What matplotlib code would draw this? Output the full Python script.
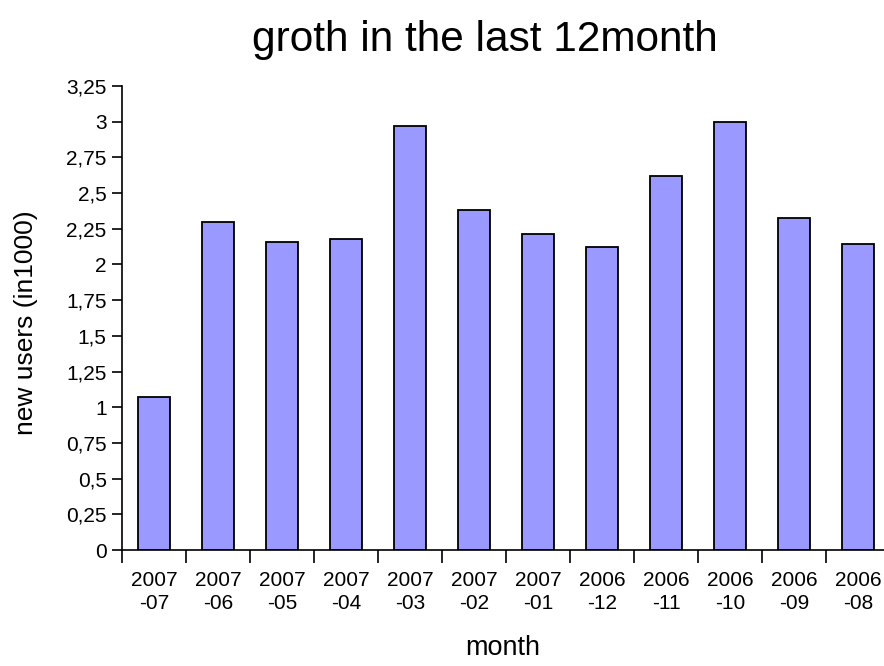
import matplotlib.pyplot as plt
import numpy as np

plt.rcParams['font.family'] = ['Liberation Sans', 'DejaVu Sans']

months = ['2007\n-07', '2007\n-06', '2007\n-05', '2007\n-04', '2007\n-03', '2007\n-02',
          '2007\n-01', '2006\n-12', '2006\n-11', '2006\n-10', '2006\n-09', '2006\n-08']
new_users = [1.07, 2.30, 2.16, 2.18, 2.97, 2.38, 2.21, 2.12, 2.62, 3.00, 2.325, 2.14]
yticks = [0, 0.25, 0.5, 0.75, 1, 1.25, 1.5, 1.75, 2, 2.25, 2.5, 2.75, 3, 3.25]

fig = plt.figure(figsize=(8.84, 6.66), dpi=100)
ax = fig.add_axes([122/884, 116/666, 768/884, 464/666])

x = np.arange(len(months))
ax.bar(x, new_users, width=0.5, color='#9999ff', edgecolor='black', linewidth=1.3)

ax.set_xlim(-0.5, len(months) - 0.5)
ax.set_ylim(0, 3.25)
ax.set_yticks(yticks)
ax.set_yticklabels([('%g' % v).replace('.', ',') for v in yticks], fontsize=15)

ax.set_xticks(x)
ax.set_xticklabels(months, fontsize=15, linespacing=1.3)
ax.set_xticks(np.arange(len(months)) - 0.5, minor=True)
ax.tick_params(axis='x', which='major', length=0, pad=15)
ax.tick_params(axis='x', which='minor', length=9.5, width=1.2)
ax.tick_params(axis='y', length=7, width=1.2, pad=4)

ax.spines['top'].set_visible(False)
ax.spines['right'].set_visible(False)
ax.spines['left'].set_linewidth(1.2)
ax.spines['bottom'].set_linewidth(1.2)

ax.set_ylabel('new users (in1000)', fontsize=19, va='center')
ax.yaxis.set_label_coords(-0.125, 0.49)
ax.set_xlabel('month', fontsize=19.5, va='center')
ax.xaxis.set_label_coords(0.496, -0.212)
fig.text(0.549, 0.94, 'groth in the last 12month', fontsize=30.5, ha='center', va='center')

fig.savefig('out.png')
